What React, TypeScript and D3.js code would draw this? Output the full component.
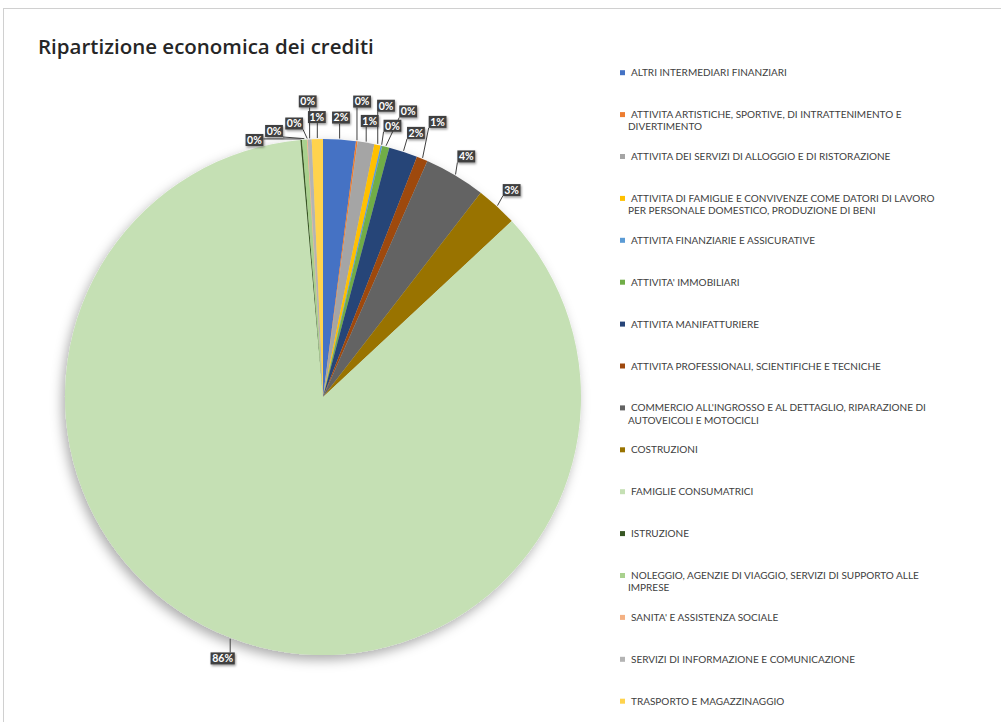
import React from "react";
import * as d3 from "d3";

const title = "Ripartizione economica dei crediti";

const categories: string[] = [
  "ALTRI INTERMEDIARI FINANZIARI",
  "ATTIVITA ARTISTICHE, SPORTIVE, DI INTRATTENIMENTO E\nDIVERTIMENTO",
  "ATTIVITA DEI SERVIZI DI ALLOGGIO E DI RISTORAZIONE",
  "ATTIVITA DI FAMIGLIE E CONVIVENZE COME DATORI DI LAVORO\nPER PERSONALE DOMESTICO, PRODUZIONE DI BENI",
  "ATTIVITA FINANZIARIE E ASSICURATIVE",
  "ATTIVITA' IMMOBILIARI",
  "ATTIVITA MANIFATTURIERE",
  "ATTIVITA PROFESSIONALI, SCIENTIFICHE E TECNICHE",
  "COMMERCIO ALL'INGROSSO E AL DETTAGLIO, RIPARAZIONE DI\nAUTOVEICOLI E MOTOCICLI",
  "COSTRUZIONI",
  "FAMIGLIE CONSUMATRICI",
  "ISTRUZIONE",
  "NOLEGGIO, AGENZIE DI VIAGGIO, SERVIZI DI SUPPORTO ALLE\nIMPRESE",
  "SANITA' E ASSISTENZA SOCIALE",
  "SERVIZI DI INFORMAZIONE E COMUNICAZIONE",
  "TRASPORTO E MAGAZZINAGGIO",
];

const values: number[] = [
  2.05, 0.1, 1.05, 0.4, 0.1, 0.45, 1.8, 0.7, 3.85, 2.6, 85.8, 0.1, 0.3, 0.05, 0.25, 0.7,
];

const colors: string[] = [
  "#4472C4", "#ED7D31", "#A5A5A5", "#FFC000", "#5B9BD5", "#70AD47",
  "#264478", "#9E480E", "#636363", "#997300", "#C5E0B4", "#375623",
  "#A9D18E", "#F4B183", "#B4B4B4", "#FFD34D",
];

const W = 1001;
const H = 722;
const CX = 323;
const CY = 397;
const R = 258;

type Box = { x0: number; y0: number; x1: number; y1: number };

export default function App() {
  const total = d3.sum(values);
  const pie = d3
    .pie<number>()
    .sort(null)
    .value((d) => d)
    .startAngle(0)
    .endAngle(2 * Math.PI);
  const arcs = pie(values);
  const arcGen = d3.arc<d3.PieArcDatum<number>>().innerRadius(0).outerRadius(R);

  // label placement with simple collision avoidance
  const labelH = 12;
  const pad = 1;
  const placed: Box[] = [];
  const overlaps = (b: Box) =>
    placed.some(
      (p) => !(b.x1 + pad <= p.x0 || b.x0 - pad >= p.x1 || b.y1 + pad <= p.y0 || b.y0 - pad >= p.y1)
    );
  const mids = arcs.map((a) => (a.startAngle + a.endAngle) / 2);
  const right = arcs.map((_, i) => i).filter((i) => mids[i] < Math.PI).sort((a, b) => mids[a] - mids[b]);
  const left = arcs.map((_, i) => i).filter((i) => mids[i] >= Math.PI).sort((a, b) => mids[b] - mids[a]);
  const order = [...right, ...left];
  const labels: { i: number; text: string; box: Box; cx: number; cy: number }[] = [];
  order.forEach((i) => {
    const text = Math.round((values[i] / total) * 100) + "%";
    const w = text.length * 6.4 + 5;
    const mid = mids[i];
    const dir = mid < Math.PI ? 1 : -1;
    let done = false;
    for (let k = 0; k < 80 && !done; k++) {
      const radii = dir > 0 ? [280, 298] : k === 0 ? [280, 296] : [278 - k * 1.5];
      for (const r of radii) {
        const ang = mid + dir * k * 0.022;
        const x = CX + r * Math.sin(ang);
        const y = CY - r * Math.cos(ang);
        const box = { x0: x - w / 2, y0: y - labelH / 2, x1: x + w / 2, y1: y + labelH / 2 };
        if (!overlaps(box)) {
          placed.push(box);
          labels.push({ i, text, box, cx: x, cy: y });
          done = true;
          break;
        }
      }
    }
  });

  const legendTop = 72.7;
  const legendStep = 41.9;

  return (
    <svg
      width={W}
      height={H}
      style={{ position: "absolute", left: 0, top: 0, background: "#fff" }}
      fontFamily="Lato, 'Open Sans', sans-serif"
    >
      <defs>
        <filter id="pieShadow" x="-20%" y="-20%" width="140%" height="140%">
          <feDropShadow dx={-3} dy={5} stdDeviation={6} floodColor="#000" floodOpacity={0.32} />
        </filter>
        <filter id="lblShadow" x="-30%" y="-30%" width="160%" height="160%">
          <feDropShadow dx={1} dy={1.5} stdDeviation={1} floodColor="#000" floodOpacity={0.4} />
        </filter>
      </defs>
      <rect x={3.5} y={8.5} width={W + 10} height={H + 10} fill="#fff" stroke="#d0d0d0" strokeWidth={1} />
      <text x={38} y={54} fontSize={20.5} fontWeight={600} fill="#262626" fontFamily="'Open Sans', sans-serif">
        {title}
      </text>

      <g transform={`translate(${CX},${CY})`} filter="url(#pieShadow)">
        {arcs.map((a, i) => (
          <path key={i} d={arcGen(a) || ""} fill={colors[i]} />
        ))}
      </g>

      {labels.map((l) => {
        const mid = mids[l.i];
        const ax = CX + (R + 1) * Math.sin(mid);
        const ay = CY - (R + 1) * Math.cos(mid);
        const nx = Math.max(l.box.x0, Math.min(ax, l.box.x1));
        const ny = Math.max(l.box.y0, Math.min(ay, l.box.y1));
        const dist = Math.hypot(nx - ax, ny - ay);
        return dist > 3 ? (
          <line key={"ll" + l.i} x1={ax} y1={ay} x2={nx} y2={ny} stroke="#404040" strokeWidth={1} />
        ) : null;
      })}
      {labels.map((l) => (
        <g key={"lb" + l.i}>
          <rect
            x={l.box.x0}
            y={l.box.y0}
            width={l.box.x1 - l.box.x0}
            height={l.box.y1 - l.box.y0}
            fill="#404040"
            filter="url(#lblShadow)"
          />
          <text
            x={l.cx}
            y={l.cy + 3.8}
            textAnchor="middle"
            fontSize={10.5}
            fontWeight={700}
            fill="#fff"
          >
            {l.text}
          </text>
        </g>
      ))}

      <g>
        {categories.map((c, i) => {
          const y = legendTop + i * legendStep;
          const lines = c.split("\n");
          return (
            <g key={"lg" + i}>
              <rect x={620} y={y - 2.5} width={5} height={5} fill={colors[i]} />
              {lines.map((ln, j) => (
                <text key={j} x={j === 0 ? 631 : 628} y={y + 3.5 + j * 12.3} fontSize={10} fill="#404040">
                  {ln}
                </text>
              ))}
            </g>
          );
        })}
      </g>
    </svg>
  );
}
